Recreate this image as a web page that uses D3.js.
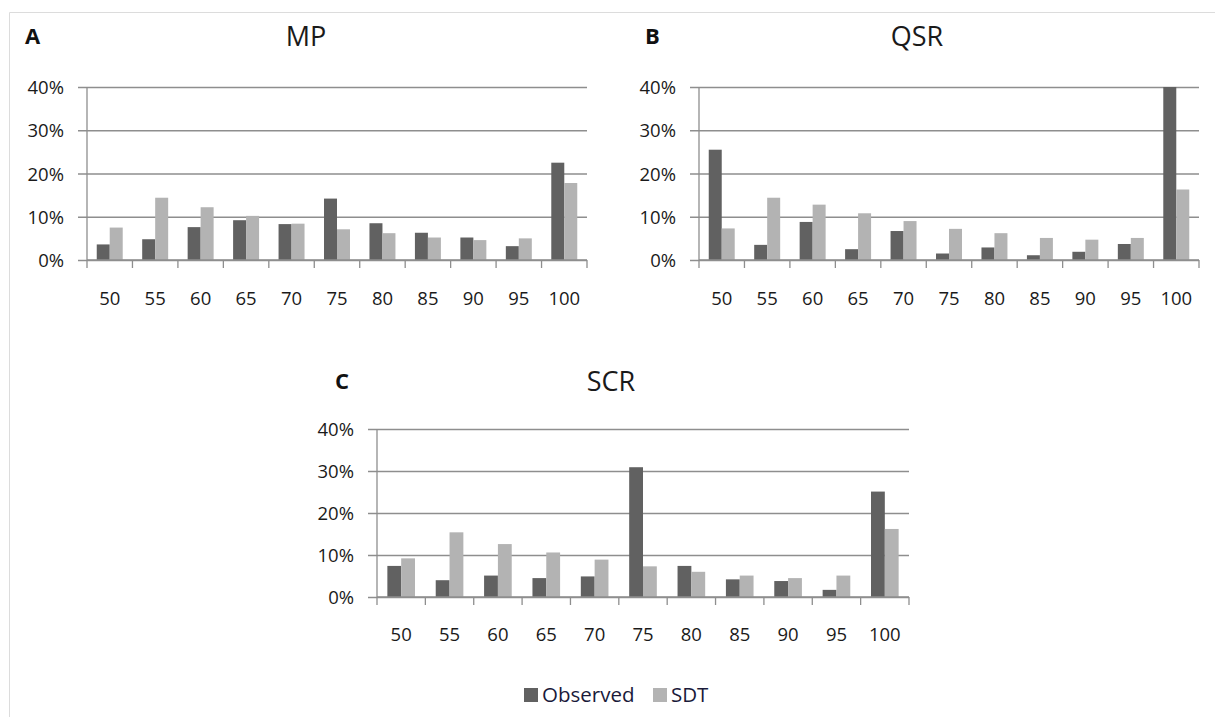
<!DOCTYPE html>
<html>
<head>
<meta charset="utf-8">
<script src="https://cdn.jsdelivr.net/npm/d3@7"></script>
<style>
  body { margin: 0; background: #fff; }
  svg { display: block; font-family: "Open Sans", sans-serif; }
  .tick text { fill: #1a1a1a; }
</style>
</head>
<body>
<svg></svg>
<script>
let width = 1215
let height = 717

// data
let categories = ["50", "55", "60", "65", "70", "75", "80", "85", "90", "95", "100"]
let seriesNames = ["Observed", "SDT"]
let yTicks = [0, 10, 20, 30, 40]

let mpObserved = [3.6, 4.8, 7.6, 9.2, 8.3, 14.2, 8.5, 6.3, 5.2, 3.2, 22.5]
let mpSDT = [7.5, 14.4, 12.2, 10.2, 8.4, 7.1, 6.2, 5.2, 4.6, 5.0, 17.8]

let qsrObserved = [25.5, 3.5, 8.8, 2.5, 6.7, 1.5, 2.9, 1.1, 1.9, 3.7, 40]
let qsrSDT = [7.3, 14.4, 12.8, 10.8, 9.0, 7.2, 6.2, 5.1, 4.7, 5.1, 16.3]

let scrObserved = [7.4, 4.0, 5.1, 4.5, 4.9, 30.9, 7.4, 4.2, 3.8, 1.7, 25.1]
let scrSDT = [9.2, 15.4, 12.6, 10.6, 8.9, 7.3, 6.0, 5.1, 4.5, 5.1, 16.2]

let colors = { Observed: "#616161", SDT: "#b3b3b3" }
let gridColor = "#8e8e8e"

let svg = d3.select("svg").attr("width", width).attr("height", height)

// light frame lines at top/left like the source figure
svg.append("line").attr("x1", 9.5).attr("x2", width).attr("y1", 12.5).attr("y2", 12.5)
  .attr("stroke", "#dcdcdc")
svg.append("line").attr("x1", 9.5).attr("x2", 9.5).attr("y1", 12.5).attr("y2", height)
  .attr("stroke", "#dcdcdc")

let drawPanel = (p) => {
  let g = svg.append("g")
  let rows = categories.map((c, i) => ({ cat: c, Observed: p.observed[i], SDT: p.sdt[i] }))

  let x = d3.scaleBand().domain(categories).range([p.left, p.right]).paddingInner(0)
  let xInner = d3.scaleBand().domain(seriesNames).range([0, x.bandwidth()]).paddingInner(0).paddingOuter(0.75)
  let y = d3.scaleLinear().domain([0, 40]).range([p.bottom, p.top])

  // gridlines + y labels
  let yAxis = d3.axisLeft(y).tickValues(yTicks).tickFormat(d => d + "%")
    .tickSize(-(p.right - p.left + 9)).tickPadding(14)
  let ya = g.append("g").attr("transform", "translate(" + (p.left - 9) + ",0)").call(yAxis)
  ya.select(".domain").remove()
  ya.selectAll(".tick line").attr("stroke", gridColor).attr("stroke-width", 1.3)
  ya.selectAll(".tick text").attr("font-size", 18.5).attr("font-family", "Open Sans").attr("dy", "0.36em")

  // vertical axis line
  g.append("line").attr("x1", p.left).attr("x2", p.left).attr("y1", y(40)).attr("y2", y(0))
    .attr("stroke", gridColor).attr("stroke-width", 1.3)

  // bars
  g.selectAll(".grp").data(rows).enter().append("g")
    .attr("transform", d => "translate(" + x(d.cat) + ",0)")
    .selectAll("rect")
    .data(d => seriesNames.map(s => ({ key: s, value: d[s] })))
    .enter().append("rect")
    .attr("x", d => xInner(d.key))
    .attr("width", xInner.bandwidth())
    .attr("y", d => y(d.value))
    .attr("height", d => y(0) - y(d.value))
    .attr("fill", d => colors[d.key])

  // x axis line + boundary ticks
  g.append("line").attr("x1", p.left).attr("x2", p.right).attr("y1", y(0)).attr("y2", y(0))
    .attr("stroke", gridColor).attr("stroke-width", 1.3)
  let bounds = categories.map(c => x(c)).concat([p.right])
  g.selectAll(".bt").data(bounds).enter().append("line")
    .attr("x1", d => d).attr("x2", d => d)
    .attr("y1", y(0)).attr("y2", y(0) + 8)
    .attr("stroke", gridColor).attr("stroke-width", 1.3)

  let xa = g.append("g").attr("transform", "translate(0," + y(0) + ")")
    .call(d3.axisBottom(x).tickSize(0).tickPadding(p.labelPad))
  xa.select(".domain").remove()
  xa.selectAll(".tick text").attr("font-size", 18.5).attr("font-family", "Open Sans")

  // panel letter and title
  g.append("text").attr("x", p.letterX).attr("y", p.titleY - 2).text(p.letter)
    .attr("font-size", 22).attr("font-weight", "bold").attr("fill", "#111")
  g.append("text").attr("x", p.titleX).attr("y", p.titleY).text(p.title)
    .attr("text-anchor", "middle").attr("font-size", 27).attr("fill", "#1a1a1a")
}

drawPanel({ letter: "A", title: "MP", observed: mpObserved, sdt: mpSDT,
  left: 87, right: 587, top: 87, bottom: 260, labelPad: 32,
  letterX: 25, titleX: 306, titleY: 46 })
drawPanel({ letter: "B", title: "QSR", observed: qsrObserved, sdt: qsrSDT,
  left: 699, right: 1199, top: 87, bottom: 260, labelPad: 32,
  letterX: 645, titleX: 917, titleY: 46 })
drawPanel({ letter: "C", title: "SCR", observed: scrObserved, sdt: scrSDT,
  left: 377, right: 909, top: 429, bottom: 597, labelPad: 31,
  letterX: 335, titleX: 611, titleY: 391 })

// legend
let legend = svg.append("g").attr("transform", "translate(524,688)")
let items = legend.selectAll("g").data(seriesNames).enter().append("g")
  .attr("transform", (d, i) => "translate(" + (i * 129) + ",0)")
items.append("rect").attr("width", 14).attr("height", 14).attr("fill", d => colors[d])
items.append("text").attr("x", 18).attr("y", 14).text(d => d)
  .attr("font-size", 20.5).attr("fill", "#1a1a3a")
</script>
</body>
</html>
